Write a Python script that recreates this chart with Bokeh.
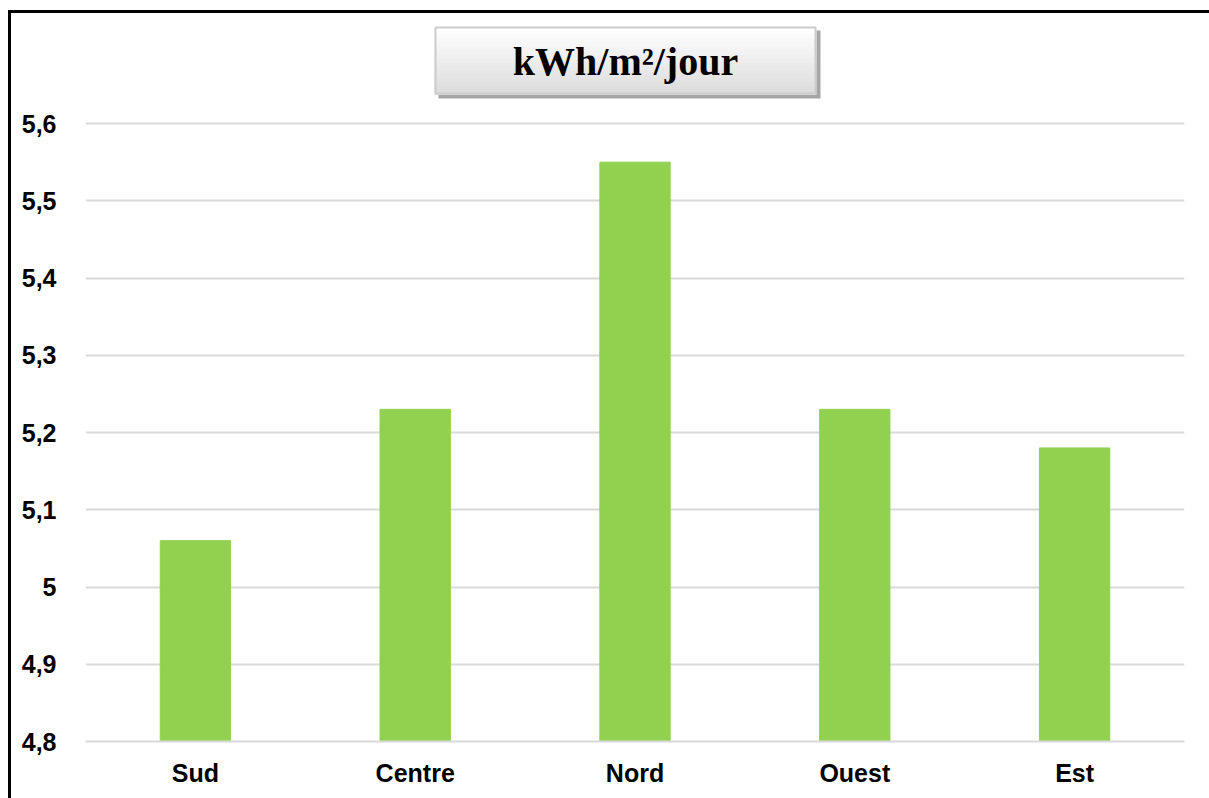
from bokeh.plotting import figure
from bokeh.models import FactorRange, Range1d, FixedTicker
from bokeh.core.properties import value
from bokeh.embed import file_html
from bokeh.resources import INLINE

regions = ["Sud", "Centre", "Nord", "Ouest", "Est"]
values = [5.06, 5.23, 5.55, 5.23, 5.18]
y_ticks = [4.8, 4.9, 5.0, 5.1, 5.2, 5.3, 5.4, 5.5, 5.6]
y_tick_labels = ["4,8", "4,9", "5", "5,1", "5,2", "5,3", "5,4", "5,5", "5,6"]
title_text = "kWh/m²/jour"

# layout (pixels)
W, H = 1209, 798
LEFT, RIGHT, BOTTOM = 85, 1184, 741
TOP_TICK_PX = 123                      # pixel row of the top tick (5.6)
px_per_unit = (BOTTOM - TOP_TICK_PX) / (y_ticks[-1] - y_ticks[0])
y_end = y_ticks[0] + BOTTOM / px_per_unit   # frame reaches the canvas top
n_cat = len(regions)

def px2x(px):
    return (px - LEFT) / (RIGHT - LEFT) * n_cat

def px2y(py):
    return y_ticks[0] + (BOTTOM - py) / px_per_unit

p = figure(width=W, height=H, output_backend="svg", toolbar_location=None,
           x_range=FactorRange(*regions, range_padding=0),
           y_range=Range1d(y_ticks[0], y_end),
           min_border_left=LEFT, min_border_right=W - RIGHT,
           min_border_top=0, min_border_bottom=H - BOTTOM)
p.outline_line_color = None
p.background_fill_color = None
p.border_fill_color = None
p.styles = {"background-color": "white",
            "box-shadow": "inset 8px 10px 0 0 white, inset 11px 13px 0 0 black"}

p.vbar(x=regions, top=values, bottom=y_ticks[0], width=0.32, color="#92D050")

p.xgrid.grid_line_color = None
p.ygrid.grid_line_color = "#d9d9d9"
p.ygrid.grid_line_width = 2
p.yaxis.ticker = FixedTicker(ticks=y_ticks)
p.yaxis.major_label_overrides = {t: l for t, l in zip(y_ticks, y_tick_labels)}
for ax in (p.xaxis, p.yaxis):
    ax.major_tick_line_color = None
    ax.minor_tick_line_color = None
    ax.major_label_text_font = "Liberation Sans"
    ax.major_label_text_font_style = "bold"
    ax.major_label_text_font_size = "25px"
    ax.major_label_text_color = "#000000"
p.yaxis.axis_line_color = None
p.yaxis.major_label_standoff = 23
p.xaxis.axis_line_color = "#d9d9d9"
p.xaxis.axis_line_width = 2
p.xaxis.major_label_standoff = 11

# title box: shadow, gradient fill, light border
bl, br, bt, bb = 434, 816, 26, 94
p.quad(left=px2x(bl + 4), right=px2x(br + 4), top=px2y(bt + 4), bottom=px2y(bb + 4),
       fill_color="#a6a6a6", line_color=None)
n = 17
for i in range(n):
    t = bt + (bb - bt) * i / n
    b = bt + (bb - bt) * (i + 1) / n
    c = int(round(255 - (255 - 220) * i / (n - 1)))
    p.quad(left=px2x(bl), right=px2x(br), top=px2y(t), bottom=px2y(b + 0.6),
           fill_color=(c, c, c), line_color=None)
p.quad(left=px2x(bl + 1), right=px2x(br - 1), top=px2y(bt + 1), bottom=px2y(bb - 1),
       fill_color=None, line_color="#cccccc", line_width=2)
p.text(x=[px2x((bl + br) / 2)], y=[px2y((bt + bb) / 2 + 1)], text=[title_text],
       text_font=value("Liberation Serif"), text_font_style="bold",
       text_font_size="40px", text_align="center", text_baseline="middle",
       text_color="black")

open("out.html", "w").write(file_html(p, INLINE))
